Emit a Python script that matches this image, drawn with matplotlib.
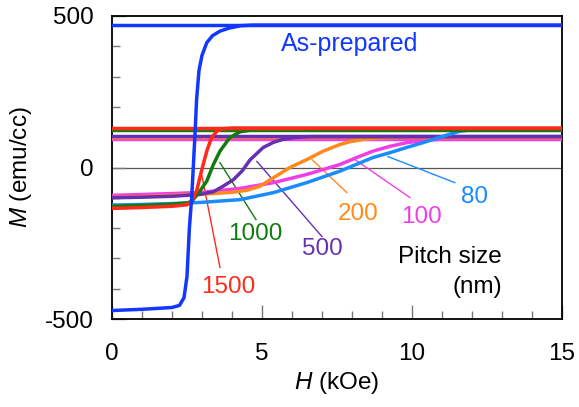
import matplotlib
matplotlib.use("Agg")
import matplotlib.pyplot as plt

# field (kOe) and magnetization (emu/cc)
# as-prepared film
h_asprep = [0, 1, 2, 2.25, 2.4, 2.5, 2.58, 2.66, 2.72, 2.77, 2.82, 2.9, 3.0, 3.16, 3.35, 3.6, 3.9, 4.3, 4.7, 15]
m_asprep = [-472, -468, -462, -455, -430, -360, -200, -95, 20, 115, 224, 320, 370, 412, 435, 450, 460, 468, 470, 470]
ms_asprep = 471

# pitch 1500 nm
h_1500 = [0, 1, 2, 2.5, 2.65, 2.82, 2.93, 3.04, 3.16, 3.32, 3.5, 3.7, 4.0, 15]
m_1500 = [-135, -132, -128, -123, -112, -78, -33, 10, 54, 99, 120, 128, 130, 130]
ms_1500 = 131

# pitch 1000 nm
h_1000 = [0, 1, 2, 2.5, 2.66, 2.93, 3.16, 3.38, 3.6, 3.93, 4.27, 4.6, 5.0, 15]
m_1000 = [-128, -125, -121, -117, -112, -78, -45, 10, 54, 99, 118, 123, 124, 124]
ms_1000 = 124

# pitch 500 nm
h_500 = [0, 1, 2, 2.93, 3.38, 3.7, 4.05, 4.35, 4.6, 5.04, 5.38, 5.7, 6.1, 6.6, 15]
m_500 = [-100, -98, -95, -89, -80, -62, -40, -10, 25, 66, 83, 93, 99, 102, 102]
ms_500 = 103

# pitch 200 nm
h_200 = [0, 1, 2, 3, 4.0, 4.5, 4.93, 5.38, 5.93, 6.49, 7.04, 7.6, 7.93, 8.4, 8.9, 9.5, 15]
m_200 = [-99, -96, -92, -88, -82, -75, -62, -34, 0, 26, 54, 76, 85, 93, 97, 100, 100]
ms_200 = 100

# pitch 100 nm
h_100 = [0, 1, 2, 3, 4.27, 5.38, 6.49, 7.6, 8.16, 8.7, 9.27, 9.82, 10.4, 10.9, 11.5, 15]
m_100 = [-92, -89, -86, -82, -69, -50, -23, 10, 33, 54, 70, 82, 89, 93, 94, 94]
ms_100 = 94

# pitch 80 nm
h_80 = [0, 1, 2, 3, 4.27, 5.38, 6.49, 7.6, 8.7, 9.27, 9.82, 10.4, 10.9, 11.6, 12.27, 12.8, 15]
m_80 = [-124, -122, -119, -115, -106, -83, -50, -12, 33, 49, 66, 83, 99, 120, 127, 128, 128]
ms_80 = 128

# label text, leader line start / end, label position (data units)
labels = ["80", "100", "200", "500", "1000", "1500"]
leader_start = [(9.2, 36), (8.1, 26), (6.67, 26), (4.83, 20), (3.6, 16), (3.0, -28)]
leader_end = [(11.43, -50), (9.93, -99), (7.83, -83), (7.0, -228), (4.8, -172), (3.6, -330)]
label_pos = [(12.1, -99), (10.33, -162), (8.2, -155), (7.0, -270), (4.77, -221), (3.87, -393)]


def main() -> None:
    plt.rcParams['font.family'] = ['Liberation Sans', 'DejaVu Sans']
    plt.rcParams['font.size'] = 17.5
    plt.rcParams['axes.unicode_minus'] = False
    plt.rcParams['mathtext.fontset'] = 'custom'
    plt.rcParams['mathtext.it'] = 'Liberation Sans:italic'
    plt.rcParams['mathtext.rm'] = 'Liberation Sans'

    fig = plt.figure(figsize=(5.79, 4.07), dpi=100)
    ax = fig.add_axes([0.1934, 0.2162, 0.7772, 0.7445])

    colors = {
        "80": "#1a8cff",
        "100": "#f03ee6",
        "200": "#ff8a1a",
        "500": "#6630b0",
        "1000": "#107c10",
        "1500": "#ff2a1a",
    }
    series = [
        ("100", h_100, m_100, ms_100),
        ("200", h_200, m_200, ms_200),
        ("500", h_500, m_500, ms_500),
        ("80", h_80, m_80, ms_80),
        ("1000", h_1000, m_1000, ms_1000),
        ("1500", h_1500, m_1500, ms_1500),
    ]

    ax.axhline(0, color="#555555", lw=0.9, zorder=1)

    for name, h, m, ms in series:
        c = colors[name]
        ax.plot(h, m, color=c, lw=2.5, zorder=3)
        ax.plot([0, 15], [ms, ms], color=c, lw=2.5, zorder=3)

    blue = "#1238ff"
    ax.plot(h_asprep, m_asprep, color=blue, lw=2.5, zorder=4)
    ax.plot([0, 15], [ms_asprep, ms_asprep], color=blue, lw=2.5, zorder=4)
    ax.text(7.93, 408, "As-prepared", color=blue, ha="center", va="center", fontsize=18)

    for name, p0, p1, pl in zip(labels, leader_start, leader_end, label_pos):
        c = colors[name]
        ax.plot([p0[0], p1[0]], [p0[1], p1[1]], color=c, lw=1.0, zorder=2)
        ax.text(pl[0], pl[1], name, color=c, ha="center", va="center")

    ax.text(13.0, -297, "Pitch size", ha="right", va="center")
    ax.text(13.0, -393, "(nm)", ha="right", va="center")

    ax.set_xlim(0, 15)
    ax.set_ylim(-500, 500)
    ax.set_xticks([0, 5, 10, 15])
    ax.set_xticks(range(16), minor=True)
    ax.set_yticks([-500, 0, 500])
    ax.set_yticks(range(-500, 501, 100), minor=True)
    ax.tick_params(which="both", direction="in", top=False, right=False,
                   color="#777777", width=1)
    ax.tick_params(which="major", length=10)
    ax.tick_params(which="minor", length=6)
    ax.tick_params(axis="x", which="major", pad=17)
    ax.tick_params(axis="y", which="major", pad=13)
    for s in ax.spines.values():
        s.set_linewidth(1.3)

    # axis labels with italic symbol
    ax.annotate("$\\it{H}$ (kOe)", xy=(0.5, 0), xycoords="axes fraction",
                xytext=(0, -64), textcoords="offset pixels", ha="center", va="center")
    ax.annotate("$\\it{M}$ (emu/cc)", xy=(0, 0.5), xycoords="axes fraction",
                xytext=(-91, 0), textcoords="offset pixels", ha="center", va="center",
                rotation=90)

    fig.savefig("out.png", dpi=100)


if __name__ == '__main__':
    main()
